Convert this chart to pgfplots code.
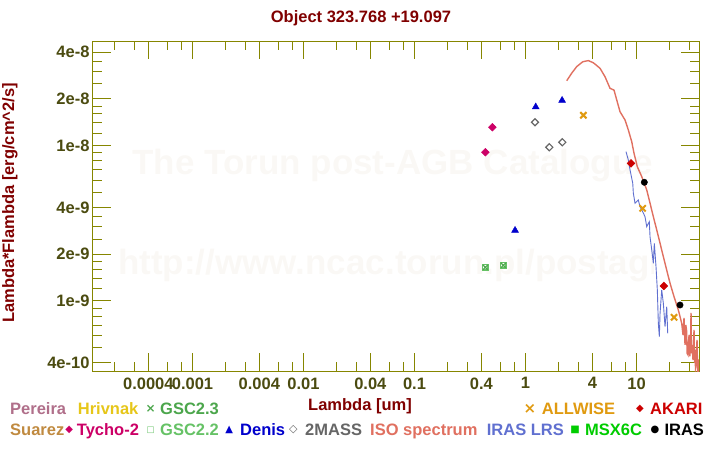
\documentclass[border=0pt]{standalone}
\usepackage{fontspec}
\setmainfont{Liberation Sans}
\newfontfamily\symfont{DejaVu Sans}
\usepackage{pgfplots}
\pgfplotsset{compat=1.18}
\definecolor{olivax}{HTML}{868600}
\definecolor{ticklab}{HTML}{4B4B10}
\definecolor{titred}{HTML}{800000}
\definecolor{cPereira}{HTML}{B06F8A}
\definecolor{cHrivnak}{HTML}{E6C619}
\definecolor{cGSCa}{HTML}{4CA64C}
\definecolor{cGSCb}{HTML}{66C266}
\definecolor{cSuarez}{HTML}{C08A40}
\definecolor{cTycho}{HTML}{CC0066}
\definecolor{cDenis}{HTML}{0000CC}
\definecolor{cTwoMASS}{HTML}{666666}
\definecolor{cISO}{HTML}{E07060}
\definecolor{cLRS}{HTML}{6070D0}
\definecolor{cMSX}{HTML}{00CC00}
\definecolor{cALLWISE}{HTML}{E09A10}
\definecolor{cAKARI}{HTML}{CC0000}
\definecolor{wm}{HTML}{FAF8F5}
\newcommand{\lf}{\fontsize{16.5bp}{19bp}\selectfont\bfseries}
\newcommand{\smf}{\symfont\fontsize{10bp}{12bp}\selectfont\bfseries}
\begin{document}
\begin{tikzpicture}[x=1bp,y=1bp]
\useasboundingbox (0,0) rectangle (720,450);
% watermark
\begin{scope}
\clip (93,79) rectangle (653,409);
\node[anchor=base west, text=wm, font=\fontsize{35bp}{40bp}\selectfont\bfseries, inner sep=0] at (132.3,275) {The Torun post-AGB Catalogue};
\node[anchor=base west, text=wm, font=\fontsize{35bp}{40bp}\selectfont\bfseries, inner sep=0] at (118,175) {http://www.ncac.torun.pl/postagb};
\end{scope}
\begin{axis}[
  at={(93bp,79bp)}, anchor=south west,
  width=606bp, height=330bp, scale only axis,
  xmode=log, ymode=log,
  xmin=1.269e-4, xmax=36.57, ymin=3.54e-10, ymax=4.72e-8,
  axis line style={olivax, line width=1bp},
  tick style={olivax, line width=1bp},
  major tick length=18bp, minor tick length=9bp,
  xtick={4e-4,1e-3,4e-3,1e-2,4e-2,0.1,0.4,1,4,10},
  xticklabels={0.0004,0.001,0.004,0.01,0.04,0.1,0.4,1,4,10},
  minor xtick={2e-4,3e-4,6e-4,8e-4,2e-3,3e-3,6e-3,8e-3,2e-2,3e-2,6e-2,8e-2,0.2,0.3,0.6,0.8,2,3,6,8,20,30},
  ytick={4e-10,1e-9,2e-9,4e-9,1e-8,2e-8,4e-8},
  yticklabels={4e-10,1e-9,2e-9,4e-9,1e-8,2e-8,4e-8},
  minor ytick={5e-10,6e-10,7e-10,8e-10,9e-10,1.2e-9,1.4e-9,1.6e-9,1.8e-9,2.5e-9,3e-9,3.5e-9,5e-9,6e-9,7e-9,8e-9,9e-9,1.2e-8,1.4e-8,1.6e-8,1.8e-8,2.5e-8,3e-8,3.5e-8},
  tick label style={font=\lf, text=ticklab},
  xticklabel style={yshift=-3bp},
]
% ISO spectrum
\addplot[cISO, line width=1.4bp] coordinates {
(2.352,2.62e-8)(2.608,2.93e-8)(2.894,3.23e-8)(3.278,3.47e-8)(3.681,3.53e-8)(4.084,3.42e-8)(4.691,3.15e-8)(5.204,2.78e-8)(5.773,2.34e-8)(6.271,2.28e-8)(6.635,1.97e-8)(7.104,1.655e-8)(7.880,1.464e-8)(8.440,1.262e-8)(9.055,1.061e-8)(9.499,8.93e-9)(10.17,7.32e-9)(11.15,6.32e-9)(12.36,5.19e-9)(13.24,4.26e-9)(14.18,3.49e-9)(15.21,2.87e-9)(16.30,2.35e-9)(17.45,1.93e-9)(18.72,1.58e-9)(20.05,1.30e-9)(21.78,1.066e-9)(23.81,8.75e-10)(25.55,7.18e-10)(26.24,6.04e-10)(26.79,7.77e-10)(27.36,5.21e-10)(27.8,7.0e-10)(28.23,6.51e-10)(28.6,4.6e-10)(29.12,4.49e-10)(29.73,6.04e-10)(30.2,4.4e-10)(30.67,5.21e-10)(30.99,8.37e-10)(31.3,4.6e-10)(31.63,5.21e-10)(32.30,4.17e-10)(32.98,6.51e-10)(33.3,4.0e-10)(33.67,4.84e-10)(34.0,3.7e-10)(34.38,3.87e-10)(34.8,5.0e-10)(35.10,5.61e-10)(35.5,3.5e-10)(35.83,3.10e-10)(36.3,4.2e-10)(36.57,3.0e-10)
};
% IRAS LRS
\addplot[cLRS, line width=0.9bp] coordinates {
(8.045,9.15e-9)(8.440,8.09e-9)(8.743,6.98e-9)(9.249,5.73e-9)(9.363,4.94e-9)(9.698,4.26e-9)(10.38,4.47e-9)(10.75,4.05e-9)(11.37,3.76e-9)(11.93,3.49e-9)(12.36,3.01e-9)(13.04,3.24e-9)(13.24,2.59e-9)(13.72,2.13e-9)(14.18,1.75e-9)(14.47,2.35e-9)(14.99,1.66e-9)(15.40,1.18e-9)(15.73,7.18e-10)(16.06,5.89e-10)(16.30,8.33e-10)(16.87,1.18e-9)(17.45,9.66e-10)(18.07,6.83e-10)(18.72,9.19e-10)(19.11,6.19e-10)
};
% GSC2.2
\addplot[only marks, mark=square, mark size=2.8bp, mark options={draw=cGSCb, line width=1.5bp}] coordinates {(0.4345,1.648e-9)(0.6316,1.698e-9)};
% GSC2.3
\addplot[only marks, mark=x, mark size=3.4bp, mark options={draw=cGSCa, line width=1.2bp}] coordinates {(0.4345,1.648e-9)(0.6316,1.698e-9)};
% Tycho-2
\addplot[only marks, mark=square*, mark size=2.7bp, mark options={rotate=45, draw=cTycho, fill=cTycho, line width=0.6bp}] coordinates {(0.4345,9.07e-9)(0.5026,1.314e-8)};
% Denis
\addplot[only marks, mark=triangle*, mark size=4bp, mark options={draw=cDenis, fill=cDenis, line width=0.4bp}] coordinates {(0.805,2.848e-9)(1.236,1.775e-8)(2.136,1.957e-8)};
% 2MASS
\addplot[only marks, mark=square, mark size=2.5bp, mark options={rotate=45, draw=cTwoMASS, line width=1.2bp}] coordinates {(1.218,1.415e-8)(1.639,9.77e-9)(2.147,1.052e-8)};
% ALLWISE
\addplot[only marks, mark=x, mark size=4.4bp, mark options={draw=cALLWISE, line width=2bp}] coordinates {(3.323,1.57e-8)(11.35,3.95e-9)(21.78,7.85e-10)};
% AKARI
\addplot[only marks, mark=square*, mark size=2.7bp, mark options={rotate=45, draw=cAKARI, fill=cAKARI, line width=0.6bp}] coordinates {(8.927,7.70e-9)(17.65,1.249e-9)};
% IRAS
\addplot[only marks, mark=*, mark size=3.2bp, mark options={draw=black, fill=black}] coordinates {(11.76,5.81e-9)(24.66,9.42e-10)};
\end{axis}
% titles
\node[anchor=base, text=titred, font=\lf, inner sep=0] at (361,427) {Object 323.768 +19.097};
\node[anchor=base, text=titred, font=\lf, inner sep=0] at (360,39) {Lambda [um]};
\node[rotate=90, text=titred, font=\lf, inner sep=0] at (10,247) {Lambda*Flambda [erg/cm\textasciicircum 2/s]};
% legend row 1
\node[anchor=base west, inner sep=0, text=cPereira, font=\lf] at (10,35) {Pereira};
\node[anchor=base west, inner sep=0, text=cHrivnak, font=\lf] at (77.7,35) {Hrivnak};
\node[inner sep=0, text=cGSCa, font=\symfont\fontsize{12bp}{14bp}\selectfont\bfseries] at (150.7,41) {×};
\node[anchor=base west, inner sep=0, text=cGSCa, font=\lf] at (160,35) {GSC2.3};
\node[inner sep=0, text=cALLWISE, font=\symfont\fontsize{15bp}{17bp}\selectfont\bfseries] at (530,41) {×};
\node[anchor=base west, inner sep=0, text=cALLWISE, font=\lf] at (541.7,35) {ALLWISE};
\node[inner sep=0, text=cAKARI, font=\smf] at (640,41) {◆};
\node[anchor=base west, inner sep=0, text=cAKARI, font=\lf] at (650,35) {AKARI};
% legend row 2
\node[anchor=base west, inner sep=0, text=cSuarez, font=\lf] at (10,14.3) {Suarez};
\node[inner sep=0, text=cTycho, font=\smf] at (69.3,20) {◆};
\node[anchor=base west, inner sep=0, text=cTycho, font=\lf] at (76.7,14.3) {Tycho-2};
\node[inner sep=0, text=cGSCb, font=\symfont\fontsize{8.5bp}{10bp}\selectfont\bfseries] at (150.7,20) {□};
\node[anchor=base west, inner sep=0, text=cGSCb, font=\lf] at (160,14.3) {GSC2.2};
\node[inner sep=0, text=cDenis, font=\smf] at (229.3,20) {▲};
\node[anchor=base west, inner sep=0, text=cDenis, font=\lf] at (240,14.3) {Denis};
\node[inner sep=0, text=cTwoMASS, font=\symfont\fontsize{11bp}{13bp}\selectfont\bfseries] at (293.3,20) {◇};
\node[anchor=base west, inner sep=0, text=cTwoMASS, font=\lf] at (305,14.3) {2MASS};
\node[anchor=base west, inner sep=0, text=cISO, font=\lf] at (370,14.3) {ISO spectrum};
\node[anchor=base west, inner sep=0, text=cLRS, font=\lf] at (486.7,14.3) {IRAS LRS};
\node[inner sep=0, text=cMSX, font=\smf] at (575,20) {■};
\node[anchor=base west, inner sep=0, text=cMSX, font=\lf] at (585,14.3) {MSX6C};
\node[inner sep=0, text=black, font=\smf] at (655,20) {●};
\node[anchor=base west, inner sep=0, text=black, font=\lf] at (664.3,14.3) {IRAS};
\end{tikzpicture}
\end{document}
